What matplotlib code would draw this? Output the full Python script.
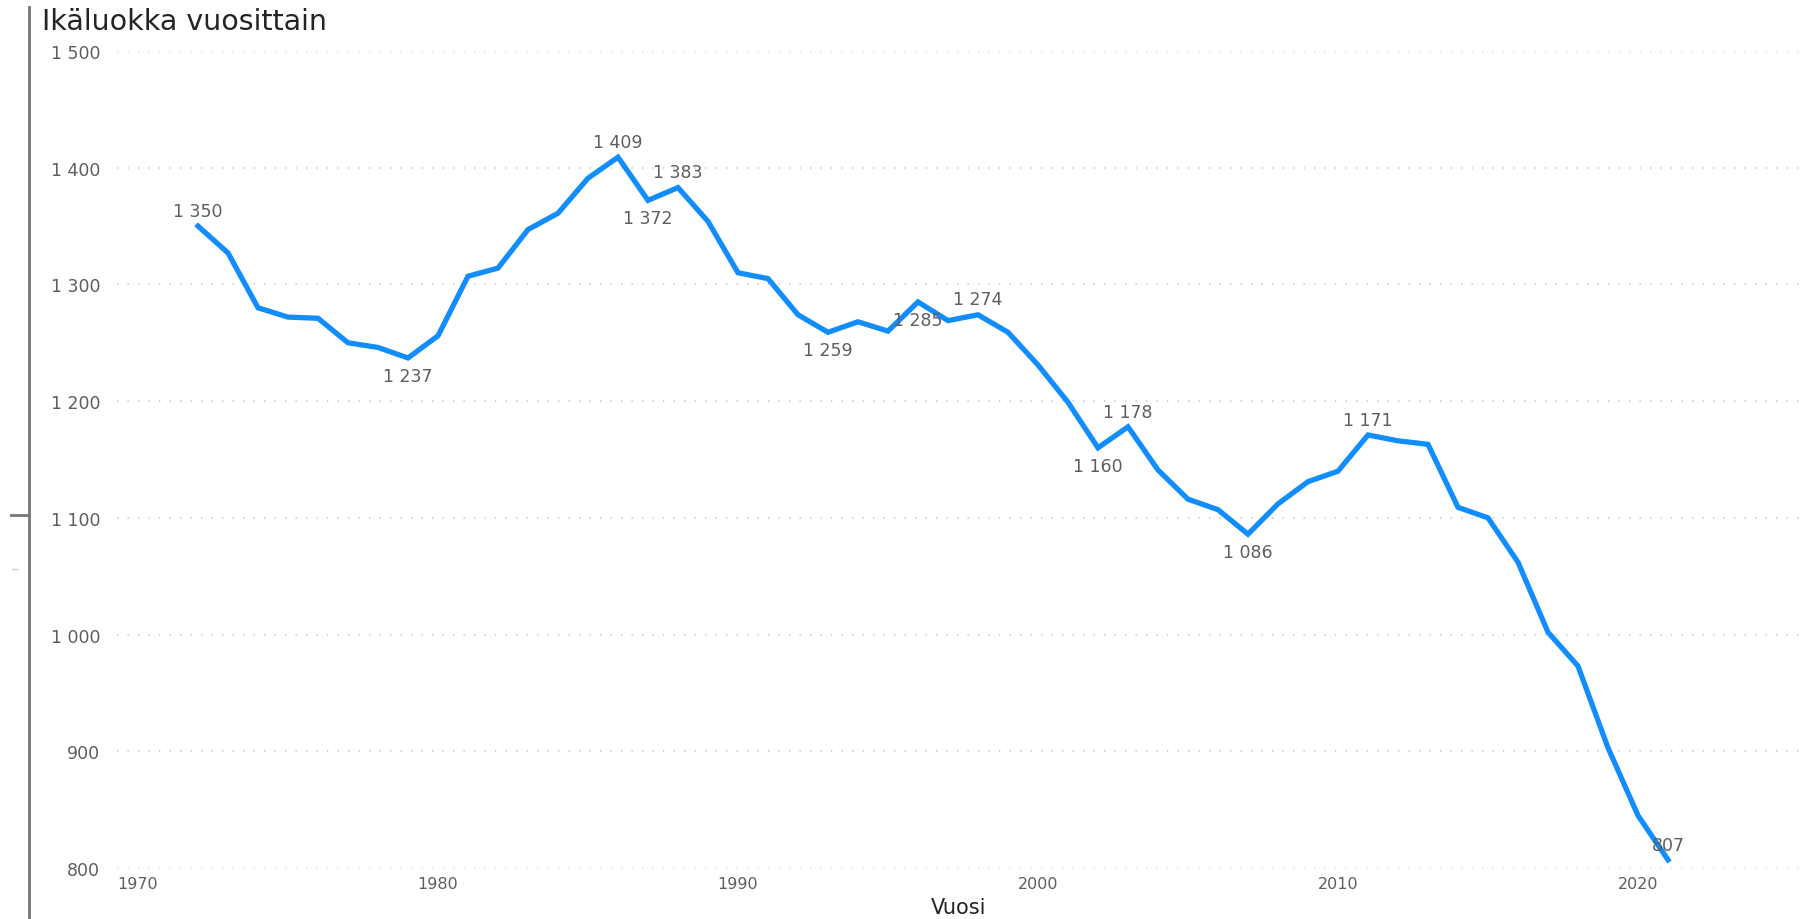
import matplotlib.pyplot as plt
from matplotlib.lines import Line2D
from matplotlib.ticker import FuncFormatter

plt.rcParams['font.family'] = ['DejaVu Sans']

# Ikäluokka per vuosi
vuodet = list(range(1972, 2022))
koko = [1350, 1327, 1280, 1272, 1271, 1250, 1246, 1237, 1256, 1307,
        1314, 1347, 1361, 1391, 1409, 1372, 1383, 1354, 1310, 1305,
        1274, 1259, 1268, 1260, 1285, 1269, 1274, 1259, 1231, 1199,
        1160, 1178, 1141, 1116, 1107, 1086, 1112, 1131, 1140, 1171,
        1166, 1163, 1109, 1100, 1062, 1002, 973, 903, 845, 807]

# labelled points: year -> above (True) / below (False)
label_years = [1972, 1979, 1986, 1987, 1988, 1993, 1996, 1998, 2002, 2003, 2007, 2011, 2021]
label_above = [True, False, True, False, True, False, False, True, False, True, False, True, True]

x_ticks = [1970, 1980, 1990, 2000, 2010, 2020]
y_ticks = [800, 900, 1000, 1100, 1200, 1300, 1400, 1500]

W, H = 1809, 920
fig = plt.figure(figsize=(W / 100, H / 100), dpi=100)
ax = fig.add_axes([117 / W, 1 - 869 / H, (1800 - 117) / W, (869 - 52) / H])

ax.plot(vuodet, koko, color='#118DFF', lw=3.8, solid_joinstyle='miter', zorder=3)

for yr, up in zip(label_years, label_above):
    v = koko[vuodet.index(yr)]
    txt = f"{v:,}".replace(",", " ")
    ax.annotate(txt, (yr, v), xytext=(0, 11 if up else -13), textcoords='offset points',
                ha='center', va='center', fontsize=12.5, color='#605E5C', zorder=4)

ax.set_xlim(1969.3, 2025.4)
ax.set_ylim(800, 1500)
ax.set_xticks(x_ticks)
ax.set_yticks(y_ticks)
ax.yaxis.set_major_formatter(FuncFormatter(lambda v, p: f"{v:,.0f}".replace(",", " ")))
ax.tick_params(length=0, labelcolor='#605E5C')
ax.tick_params(axis='y', pad=12, labelsize=12.5)
ax.tick_params(axis='x', pad=6, labelsize=11.5)
for s in ax.spines.values():
    s.set_visible(False)
ax.grid(axis='y', color='#C8C6C4', lw=1.2, linestyle=(0, (0.8, 5.5)))
ax.set_axisbelow(True)

ax.set_xlabel('Vuosi', fontsize=15, color='#252423', labelpad=4)

fig.text(42 / W, 1 - 30 / H, 'Ikäluokka vuosittain', fontsize=20.5, color='#252423',
         ha='left', va='baseline')

# left border of the visual
fig.add_artist(Line2D([29 / W, 29 / W], [0, 1 - 8 / H], color='#777777', lw=2))
fig.add_artist(Line2D([11 / W, 29 / W], [1 - 516 / H, 1 - 516 / H], color='#777777', lw=2))
fig.add_artist(Line2D([12 / W, 17 / W], [1 - 570 / H, 1 - 570 / H], color='#cccccc', lw=1))

fig.savefig('out.png', dpi=100)
